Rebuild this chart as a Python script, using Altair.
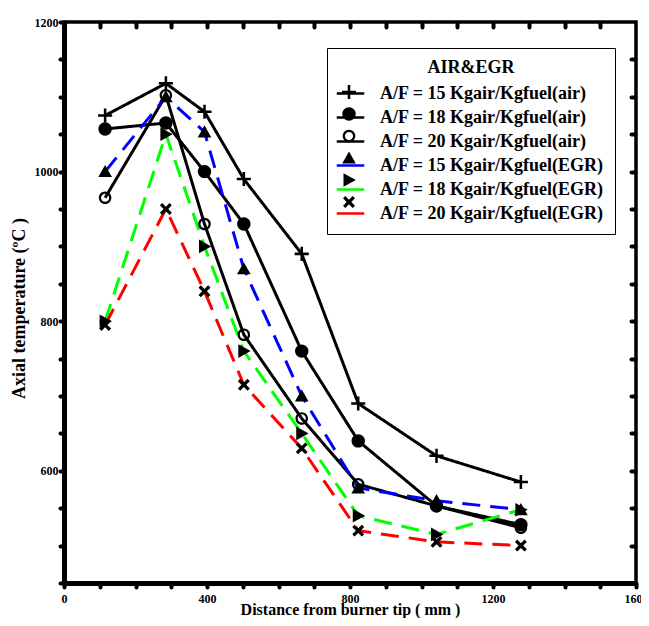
import json
import altair as alt
import pandas as pd

# ---- data ----
x_mm = [115, 285, 393, 503, 665, 823, 1042, 1278]
series_names = [
    "A/F = 15 Kgair/Kgfuel(air)",
    "A/F = 18 Kgair/Kgfuel(air)",
    "A/F = 20 Kgair/Kgfuel(air)",
    "A/F = 15 Kgair/Kgfuel(EGR)",
    "A/F = 18 Kgair/Kgfuel(EGR)",
    "A/F = 20 Kgair/Kgfuel(EGR)",
]
series_kind = ["air", "air", "air", "EGR", "EGR", "EGR"]
series_codes = ["s1", "s2", "s3", "s4", "s5", "s6"]
af15_air = [1075, 1118, 1080, 990, 890, 690, 620, 585]
af18_air = [1057, 1065, 1000, 930, 760, 640, 553, 528]
af20_air = [965, 1102, 930, 782, 670, 582, 553, 524]
af15_egr = [1000, 1100, 1053, 870, 700, 577, 560, 548]
af18_egr = [800, 1050, 900, 760, 650, 540, 515, 548]
af20_egr = [795, 950, 840, 715, 630, 520, 505, 500]
all_values = [af15_air, af18_air, af20_air, af15_egr, af18_egr, af20_egr]

line_colors = ["black", "black", "black", "#0000ff", "#00ff00", "#ff0000"]
# filled marker outlines in the unit square [-1, 1]
marker_paths = [
    # plus
    "M-0.64,-0.115H-0.115V-0.64H0.115V-0.115H0.64V0.115H0.115V0.64H-0.115V0.115H-0.64Z",
    # filled circle
    "M-0.61,0A0.61,0.61 0 1,0 0.61,0A0.61,0.61 0 1,0 -0.61,0Z",
    # open circle (ring)
    "M-0.57,0A0.57,0.57 0 1,0 0.57,0A0.57,0.57 0 1,0 -0.57,0Z"
    "M-0.37,0A0.37,0.37 0 1,1 0.37,0A0.37,0.37 0 1,1 -0.37,0Z",
    # triangle up
    "M0,-0.6L0.62,0.5L-0.62,0.5Z",
    # triangle right
    "M-0.5,-0.62L0.62,0L-0.5,0.62Z",
    # x
    "M0.332,-0.544L0.544,-0.332L0.212,0L0.544,0.332L0.332,0.544L0,0.212"
    "L-0.332,0.544L-0.544,0.332L-0.212,0L-0.544,-0.332L-0.332,-0.544L0,-0.212Z",
]
legend_line_path = "M-1.25,0H1.25"

rows = []
for name, kind, code, vals in zip(series_names, series_kind, series_codes, all_values):
    for xv, yv in zip(x_mm, vals):
        rows.append({"x": xv, "y": yv, "series": name, "kind": kind, "code": code})
df = pd.DataFrame(rows)

FONT = "Liberation Serif"
xscale = alt.Scale(domain=[0, 1600], nice=False, zero=False)
yscale = alt.Scale(domain=[450, 1200], nice=False, zero=False)

common_tick = dict(ticks=True, tickColor="black", tickWidth=4, tickCap="round", grid=False)

bottom_axis = alt.Axis(
    orient="bottom", values=list(range(0, 1700, 100)),
    labelExpr="datum.value % 400 == 0 ? datum.label : ''", format="d",
    labelFlush=False, labelOverlap=False,
    domainColor="black", domainWidth=5, tickSize=4, labelPadding=6,
    labelFont=FONT, labelFontSize=12, labelFontWeight="bold", labelColor="black",
    title="Distance from burner tip ( mm )", titleFont=FONT, titleFontSize=16,
    titleFontWeight="bold", titleColor="black", titleY=31.5, titleBaseline="alphabetic",
    **common_tick)
left_axis = alt.Axis(
    orient="left", values=list(range(450, 1250, 50)),
    labelExpr="datum.value % 200 == 0 ? datum.label : ''", format="d",
    labelFlush=False, labelOverlap=False,
    domainColor="black", domainWidth=5, tickSize=4, labelPadding=2,
    labelFont=FONT, labelFontSize=12, labelFontWeight="bold", labelColor="black",
    title="Axial temperature (ºC )", titleFont=FONT, titleFontSize=18,
    titleFontWeight="bold", titleColor="black", titlePadding=6, titleY=286,
    **common_tick)
top_axis = alt.Axis(orient="top", values=list(range(100, 1600, 100)), labels=False,
                    domain=False, tickSize=4, offset=-5, title=None, **common_tick)
right_axis = alt.Axis(orient="right", values=list(range(500, 1200, 50)), labels=False,
                      domain=False, tickSize=4, offset=-5, title=None, **common_tick)

leg_common = dict(
    title="AIR&EGR", orient="none", legendX=263, legendY=26, direction="vertical",
    symbolSize=484, labelFont=FONT, labelFontSize=18, labelFontWeight="bold",
    labelLimit=400, labelOffset=17, titleFont=FONT, titleFontSize=18,
    titleFontWeight="bold", titleAnchor="middle", titlePadding=4, padding=11,
    rowPadding=2)
legendA = alt.Legend(symbolType=legend_line_path, symbolStrokeWidth=2.5,
                     labelColor="black", titleColor="black", strokeColor="black",
                     fillColor="white", **leg_common)
# marker legend drawn on top of the line legend, same text layout (invisible text)
code_label_expr = "{}[indexof({}, datum.value)]".format(
    json.dumps(series_names), json.dumps(series_codes))
legendB = alt.Legend(symbolFillColor="black", symbolStrokeWidth=0, symbolOpacity=1,
                     labelColor="transparent", titleColor="transparent",
                     labelExpr=code_label_expr, **leg_common)

lines = alt.Chart(df).mark_line(strokeWidth=3).encode(
    x=alt.X("x:Q", scale=xscale, axis=bottom_axis),
    y=alt.Y("y:Q", scale=yscale, axis=left_axis),
    color=alt.Color("series:N", scale=alt.Scale(domain=series_names, range=line_colors),
                    legend=legendA),
    strokeDash=alt.StrokeDash("kind:N", scale=alt.Scale(domain=["air", "EGR"],
                              range=[[1, 0], [18, 10]]), legend=None),
)
points = alt.Chart(df).mark_point(filled=True, fill="black", strokeWidth=0,
                                  opacity=1, size=484).encode(
    x=alt.X("x:Q", scale=xscale, axis=None),
    y=alt.Y("y:Q", scale=yscale, axis=None),
    shape=alt.Shape("code:N", scale=alt.Scale(domain=series_codes, range=marker_paths),
                    legend=legendB),
)
frame_axes = alt.Chart(df).mark_point(opacity=0).encode(
    x=alt.X("x:Q", scale=xscale, axis=top_axis),
    y=alt.Y("y:Q", scale=yscale, axis=right_axis),
)

chart = alt.layer(lines, points, frame_axes).resolve_scale(
    x="independent", y="independent"
).properties(
    width=572, height=561,
    autosize=alt.AutoSizeParams(type="none"),
    padding={"left": 56, "top": 14, "right": 5, "bottom": 35},
).configure_view(stroke="black", strokeWidth=3.5)

chart.save("out.html", embed_options={"renderer": "svg", "actions": False})
